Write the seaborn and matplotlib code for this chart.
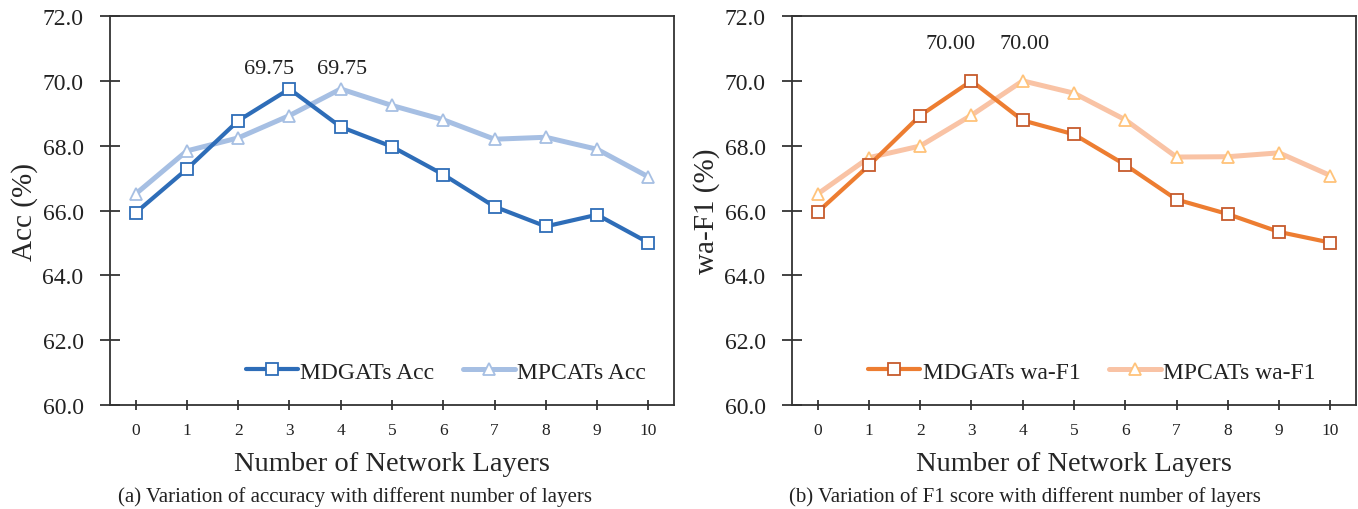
import numpy as np
import pandas as pd
import matplotlib
matplotlib.use('Agg')
import matplotlib.pyplot as plt
import seaborn as sns

# ================================
# Data
# ================================
layers = list(range(11))
mdgats_acc = [65.93, 67.28, 68.77, 69.75, 68.58, 67.97, 67.11, 66.12, 65.51, 65.87, 65.01]
mpcats_acc = [66.51, 67.84, 68.24, 68.93, 69.75, 69.24, 68.80, 68.20, 68.26, 67.89, 67.04]
mdgats_f1 = [65.95, 67.39, 68.93, 70.00, 68.78, 68.35, 67.41, 66.34, 65.89, 65.34, 65.01]
mpcats_f1 = [66.51, 67.63, 67.99, 68.94, 70.00, 69.62, 68.80, 67.65, 67.66, 67.78, 67.08]
y_ticks = [60, 62, 64, 66, 68, 70, 72]

sns.set_style('white')
plt.rcParams['font.family'] = ['Liberation Serif', 'DejaVu Serif']
plt.rcParams['text.color'] = '#222222'

fig = plt.figure(figsize=(13.58, 5.1), dpi=100)
ax1 = fig.add_axes([0.0810, 0.2039, 0.4153, 0.7627])
ax2 = fig.add_axes([0.5832, 0.2039, 0.4153, 0.7627])


def draw_panel(ax, dark, light, dark_label, light_label, dark_col, dark_edge,
               light_col, light_edge, ylabel, ann_offset, leg_x):
    sns.lineplot(x=layers, y=dark, ax=ax, color=dark_col, linewidth=3,
                 marker='s', markersize=8.5, markerfacecolor='white',
                 markeredgecolor=dark_edge, markeredgewidth=1.3,
                 label=dark_label, zorder=4)
    sns.lineplot(x=layers, y=light, ax=ax, color=light_col, linewidth=3.6,
                 marker='^', markersize=9, markerfacecolor='white',
                 markeredgecolor=light_edge, markeredgewidth=1.3,
                 label=light_label, zorder=3)

    # peak labels (first one sits a little to the left, like Excel did it)
    for series, dx in ((dark, -15), (light, 1)):
        i = int(np.argmax(series))
        ax.annotate(f'{series[i]:.2f}', (layers[i], series[i]),
                    xytext=(dx, ann_offset), textcoords='offset points',
                    ha='center', va='bottom', fontsize=16)

    ax.set_xlim(-0.5, 10.5)
    ax.set_ylim(60, 72)
    ax.set_xticks(layers)
    ax.set_xticklabels([str(v) for v in layers])
    ax.set_yticks(y_ticks)
    ax.set_yticklabels([f'{v:.1f}' for v in y_ticks])
    ax.tick_params(axis='y', left=True, direction='inout', length=14, width=1.2,
                   pad=12, labelsize=17, colors='#222222')
    ax.tick_params(axis='x', bottom=True, direction='inout', length=7, width=1.2,
                   pad=9, labelsize=12.5, colors='#222222')
    ax.set_xlabel('Number of Network Layers', fontsize=20.5, labelpad=9)
    ax.set_ylabel(ylabel, fontsize=21, labelpad=3)
    for s in ax.spines.values():
        s.set_visible(True)
        s.set_color('#333333')
        s.set_linewidth(1.3)

    ax.legend(loc='center', bbox_to_anchor=(leg_x, 0.085), ncol=2,
              frameon=False, fontsize=17, handlelength=2.2,
              handletextpad=0.1, columnspacing=1.2, borderaxespad=0)


draw_panel(ax1, mdgats_acc, mpcats_acc, 'MDGATs Acc', 'MPCATs Acc',
           '#2E6DB8', '#2E6DB8', '#A6BFE3', '#A6BFE3', 'Acc (%)', 8, 0.596)
draw_panel(ax2, mdgats_f1, mpcats_f1, 'MDGATs wa-F1', 'MPCATs wa-F1',
           '#ED7D31', '#C65A2C', '#F9C3A5', '#FFC37A', 'wa-F1 (%)', 20, 0.532)

fig.text(355 / 1358, 1 - 497 / 510,
         '(a) Variation of accuracy with different number of layers',
         ha='center', va='center', fontsize=15)
fig.text(1025 / 1358, 1 - 497 / 510,
         '(b) Variation of F1 score with different number of layers',
         ha='center', va='center', fontsize=15)

fig.savefig('out.png', dpi=100)
